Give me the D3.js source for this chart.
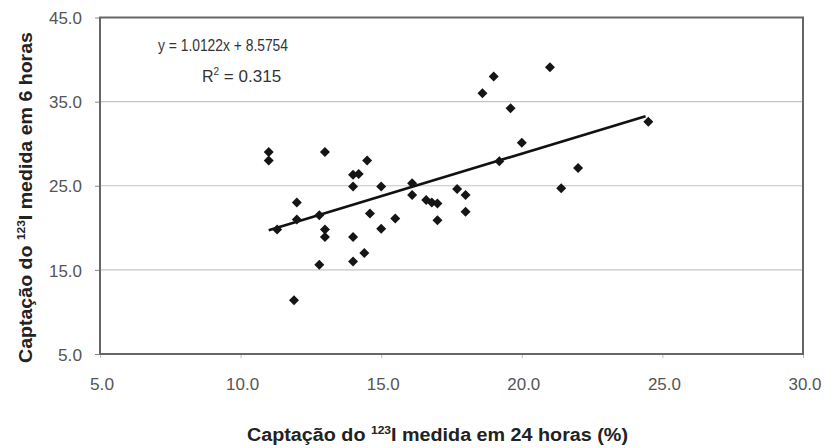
<!DOCTYPE html>
<html><head><meta charset="utf-8">
<script src="https://cdn.jsdelivr.net/npm/d3@7"></script>
<style>body{margin:0;background:#fff}svg{display:block}text{font-family:"Liberation Sans",Arial,sans-serif}</style>
</head><body><svg id="c" width="824" height="448"></svg>
<script>
const xVals=[11.0,11.0,11.3,12.0,12.0,11.9,12.8,12.8,13.0,13.0,13.0,14.0,14.2,14.0,14.0,14.0,14.4,14.5,14.6,15.0,15.0,15.5,16.1,16.1,16.6,16.8,17.0,17.0,17.7,18.0,18.0,18.6,19.0,19.6,19.2,20.0,21.0,21.4,22.0,24.5];
const yVals=[29.0,28.0,19.8,23.0,21.0,11.4,21.5,15.6,29.0,19.8,18.9,26.3,26.4,24.9,18.9,16.0,17.0,28.0,21.7,24.9,19.9,21.1,25.3,23.9,23.3,23.0,22.9,20.9,24.6,23.9,21.9,36.0,38.0,34.2,27.9,30.1,39.1,24.7,27.1,32.6];
const xTicks=[5,10,15,20,25,30];
const yTicks=[5,15,25,35,45];
const slope=1.0122, intercept=8.5754;
const eqLabel="y = 1.0122x + 8.5754";
const r2Value="0.315";
const xTitle=["Captação do ","123","I medida em 24 horas (%)"];
const yTitle=["Captação do ","123","I medida em 6 horas"];

const svg=d3.select("#c");
const L=100,R=803,T=17.5,B=354;
const x=d3.scaleLinear().domain([5,30]).range([L,R]);
const y=d3.scaleLinear().domain([5,45]).range([B,T]);

// gridlines
svg.append("g").selectAll("line").data(yTicks.filter(v=>v>5&&v<45)).join("line")
 .attr("x1",L).attr("x2",R).attr("y1",d=>y(d)).attr("y2",d=>y(d))
 .attr("stroke","#c4c4c4").attr("stroke-width",1.2);

// axes
const ya=svg.append("g").attr("transform",`translate(${L},0)`)
 .call(d3.axisLeft(y).tickValues(yTicks).tickFormat(d3.format(".1f")).tickSize(5).tickPadding(13));
ya.select(".domain").remove();
ya.selectAll("line").attr("stroke","#888");
ya.selectAll("text").attr("font-size",17).attr("fill","#555").attr("dy","0.36em")
 .attr("textLength",d=>d<10?24:33).attr("lengthAdjust","spacingAndGlyphs");
const xa=svg.append("g").attr("transform",`translate(0,${B})`)
 .call(d3.axisBottom(x).tickValues(xTicks).tickFormat(d3.format(".1f")).tickSize(4).tickPadding(20));
xa.select(".domain").remove();
xa.selectAll("line").attr("stroke","#bbb");
xa.selectAll("text").attr("font-size",17).attr("fill","#555").attr("dx","1.5")
 .attr("textLength",d=>d<10?24:33).attr("lengthAdjust","spacingAndGlyphs");

// frame
svg.append("rect").attr("x",L).attr("y",T).attr("width",R-L).attr("height",B-T)
 .attr("fill","none").attr("stroke","#666").attr("stroke-width",2);

// trend line
const xmin=d3.min(xVals), xmax=d3.max(xVals)-0.1;
svg.append("line").attr("x1",x(xmin)).attr("y1",y(slope*xmin+intercept))
 .attr("x2",x(xmax)).attr("y2",y(slope*xmax+intercept))
 .attr("stroke","#111").attr("stroke-width",2.6);

// points
const pts=xVals.map((v,i)=>[v,yVals[i]]);
svg.append("g").selectAll("path").data(pts).join("path")
 .attr("transform",d=>`translate(${x(d[0])},${y(d[1])})`)
 .attr("d","M0,-5L5,0L0,5L-5,0Z").attr("fill","#151515");

// equation
svg.append("text").attr("x",288).attr("y",51).attr("text-anchor","end")
 .attr("font-size",16).attr("fill","#333").attr("textLength",130).attr("lengthAdjust","spacingAndGlyphs").text(eqLabel);
const r2=svg.append("text").attr("x",202).attr("y",82).attr("font-size",16).attr("fill","#333");
r2.append("tspan").text("R");
r2.append("tspan").attr("font-size",10).attr("dy",-7).text("2");
r2.append("tspan").attr("dy",7).attr("textLength",62).attr("lengthAdjust","spacingAndGlyphs").text(" = "+r2Value);

// titles
function title(sel,parts){
  sel.append("tspan").text(parts[0]);
  sel.append("tspan").attr("font-size",11).attr("dy",-7).text(parts[1]);
  sel.append("tspan").attr("dy",7).text(parts[2]);
}
const xt=svg.append("text").attr("x",437.5).attr("y",441).attr("text-anchor","middle")
 .attr("font-size",18).attr("font-weight","bold").attr("fill","#222")
 .attr("textLength",381).attr("lengthAdjust","spacingAndGlyphs");
title(xt,xTitle);
const yt=svg.append("text").attr("transform","translate(32,197.5) rotate(-90)").attr("text-anchor","middle")
 .attr("font-size",18).attr("font-weight","bold").attr("fill","#222")
 .attr("textLength",331).attr("lengthAdjust","spacingAndGlyphs");
title(yt,yTitle);
</script></body></html>
